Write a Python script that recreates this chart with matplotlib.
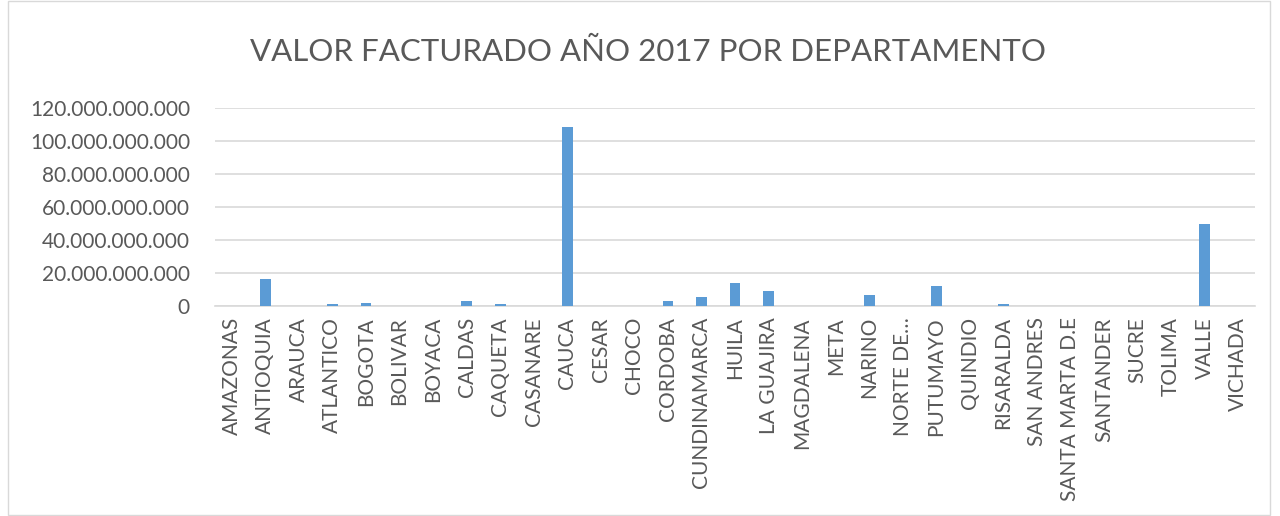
import numpy as np
import matplotlib.pyplot as plt
from matplotlib.patches import Rectangle
from matplotlib.ticker import FuncFormatter

departamentos = ["AMAZONAS", "ANTIOQUIA", "ARAUCA", "ATLANTICO", "BOGOTA", "BOLIVAR",
                 "BOYACA", "CALDAS", "CAQUETA", "CASANARE", "CAUCA", "CESAR", "CHOCO",
                 "CORDOBA", "CUNDINAMARCA", "HUILA", "LA GUAJIRA", "MAGDALENA", "META",
                 "NARINO", "NORTE DE…", "PUTUMAYO", "QUINDIO", "RISARALDA", "SAN ANDRES",
                 "SANTA MARTA D.E", "SANTANDER", "SUCRE", "TOLIMA", "VALLE", "VICHADA"]
# valor facturado en miles de millones
valores = [0, 16.6, 0, 1.0, 2.0, 0,
           0, 3.3, 1.0, 0, 108.5, 0.1, 0.1,
           3.2, 5.5, 14.1, 9.3, 0.1, 0,
           6.5, 0, 12.3, 0, 1.4, 0,
           0, 0, 0, 0, 49.7, 0]
valores = np.array(valores) * 1e9

plt.rcParams['font.family'] = ['Lato', 'DejaVu Sans']
gris = "#595959"

fig = plt.figure(figsize=(12.8, 5.16), dpi=100)
fig.patches.append(Rectangle((8 / 1280, 0.002), 1262 / 1280, 0.996, transform=fig.transFigure,
                             fill=False, edgecolor="#d9d9d9", linewidth=1))
ax = fig.add_axes([215 / 1280, 1 - 306 / 516, 1040 / 1280, 198 / 516])

x = np.arange(len(departamentos))
ax.bar(x, valores, width=0.32, color="#5b9bd5", zorder=3)

ax.set_xlim(-0.5, len(departamentos) - 0.5)
ax.set_ylim(0, 120e9)
ax.set_yticks(np.arange(0, 121e9, 20e9))
ax.yaxis.set_major_formatter(FuncFormatter(lambda v, p: "{:,.0f}".format(v).replace(",", ".")))
ax.set_xticks(x)
ax.set_xticklabels(departamentos, rotation=90)
ax.tick_params(axis="both", length=0, labelsize=15, colors=gris)
ax.tick_params(axis="y", pad=18)
ax.tick_params(axis="x", pad=8)
ax.grid(axis="y", color="#d9d9d9", linewidth=1.2, zorder=0)
for s in ["top", "right", "left"]:
    ax.spines[s].set_visible(False)
ax.spines["bottom"].set_color("#d9d9d9")
ax.spines["bottom"].set_linewidth(1.2)

fig.text(0.506, 1 - 52 / 516, "VALOR FACTURADO AÑO 2017 POR DEPARTAMENTO", ha="center",
         va="center", fontsize=22.5, color=gris)

plt.savefig("out.png")
